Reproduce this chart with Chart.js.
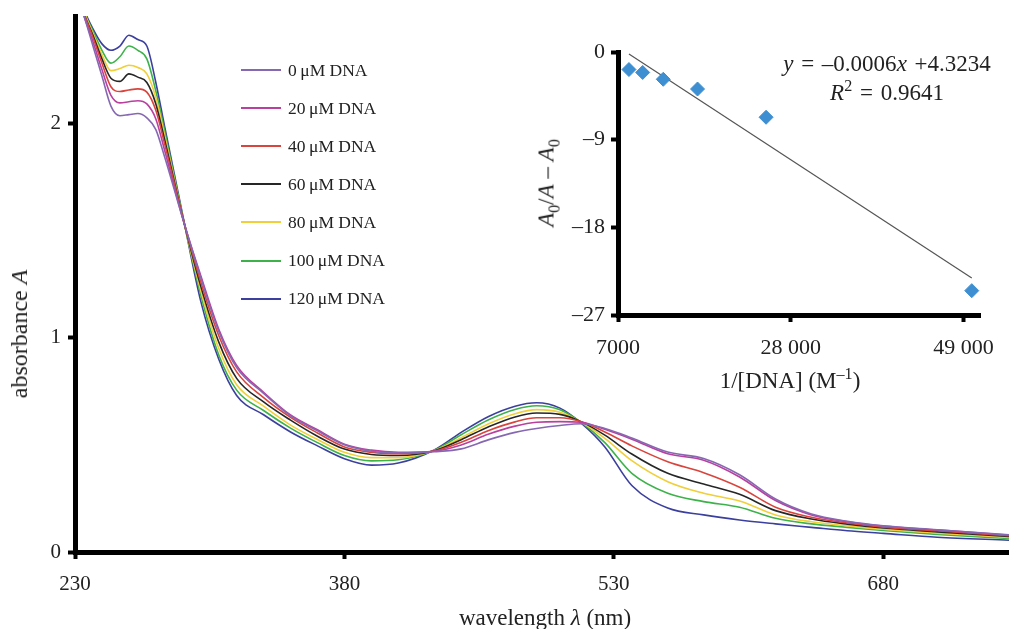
<!DOCTYPE html>
<html lang="en">
<head>
  <meta charset="UTF-8" />
  <title>Absorbance titration with DNA</title>
  <script src="https://cdn.jsdelivr.net/npm/chart.js"></script>
  <style>
    body { margin: 0; background: #fff; font-family: "Liberation Serif", "Times New Roman", serif; color: #222; }
    #wrap { position: relative; width: 1009px; height: 629px; overflow: hidden; }
    #main { position: absolute; left: 0; top: 0; }
    #inset { position: absolute; left: 500px; top: 20px; }
    .lbl { position: absolute; white-space: nowrap; font-size: 23px; line-height: 1; transform: translate(-50%, -50%); }
    .eq { font-size: 23px; word-spacing: 2px; }
    .rot { transform: translate(-50%, -50%) rotate(-90deg); }
    .legend-row { position: absolute; left: 241px; height: 20px; display: flex; align-items: center; font-size: 17.5px; white-space: nowrap; }
    .legend-row span.swatch { display: inline-block; width: 40px; height: 2px; margin-right: 7px; }
    sub, sup { font-size: 70%; line-height: 0; }
  </style>
</head>
<body>
<div id="wrap">
  <canvas id="main" width="1009" height="629"></canvas>
  <canvas id="inset" width="500" height="360"></canvas>
  <div id="legend"></div>

  <div class="lbl" style="left:545px; top:617px;">wavelength <i>λ</i> (nm)</div>
  <div class="lbl rot" style="left:19px; top:334px; font-size:24px;">absorbance <i>A</i></div>

  <div class="lbl" style="left:790px; top:380px;">1/[DNA] (M<sup>–1</sup>)</div>
  <div class="lbl rot" style="left:546px; top:183px;"><i>A</i><sub>0</sub>/<i>A</i> – <i>A</i><sub>0</sub></div>
  <div class="lbl eq" style="left:887px; top:63px;"><i>y</i> = –0.0006<i>x</i> +4.3234</div>
  <div class="lbl eq" style="left:887px; top:92px;"><i>R</i><sup>2</sup> = 0.9641</div>
</div>

<script>
  // wavelength grid (nm) shared by all spectra
  const wavelength = [230, 235, 240, 245, 250, 255, 260, 265, 270, 275, 280, 290, 300, 310, 320, 335, 350, 365, 380, 395,
                      410, 430, 445, 460, 475, 487, 500, 512, 525, 540, 560, 580, 600, 620, 640, 660, 680, 710, 750];

  const abs0   = [2.62, 2.50, 2.36, 2.22, 2.08, 2.035, 2.04, 2.045, 2.025, 1.97, 1.84, 1.555, 1.28, 1.03, 0.86, 0.74, 0.635, 0.565, 0.50, 0.47,
                  0.462, 0.468, 0.481, 0.523, 0.558, 0.576, 0.59, 0.598, 0.576, 0.532, 0.466, 0.436, 0.36, 0.247, 0.177, 0.143, 0.122, 0.104, 0.08];
  const abs20  = [2.63, 2.50, 2.38, 2.25, 2.13, 2.095, 2.10, 2.105, 2.09, 2.02, 1.87, 1.555, 1.29, 1.04, 0.87, 0.745, 0.639, 0.57, 0.503, 0.475,
                  0.465, 0.470, 0.499, 0.549, 0.587, 0.605, 0.608, 0.605, 0.572, 0.526, 0.458, 0.428, 0.35, 0.24, 0.173, 0.141, 0.121, 0.103, 0.079];
  const abs40  = [2.64, 2.51, 2.40, 2.28, 2.17, 2.148, 2.155, 2.16, 2.145, 2.06, 1.90, 1.56, 1.26, 1.01, 0.84, 0.72, 0.628, 0.555, 0.49, 0.465,
                  0.458, 0.471, 0.512, 0.566, 0.607, 0.626, 0.626, 0.607, 0.56, 0.495, 0.421, 0.37, 0.302, 0.209, 0.162, 0.135, 0.116, 0.099, 0.076];
  const abs60  = [2.64, 2.51, 2.41, 2.30, 2.21, 2.195, 2.23, 2.215, 2.19, 2.09, 1.92, 1.56, 1.24, 0.98, 0.81, 0.70, 0.615, 0.54, 0.48, 0.455,
                  0.45, 0.472, 0.524, 0.583, 0.63, 0.648, 0.642, 0.607, 0.545, 0.457, 0.367, 0.317, 0.269, 0.193, 0.154, 0.13, 0.112, 0.094, 0.072];
  const abs80  = [2.65, 2.52, 2.42, 2.32, 2.245, 2.255, 2.27, 2.26, 2.23, 2.12, 1.94, 1.56, 1.22, 0.95, 0.78, 0.68, 0.592, 0.525, 0.465, 0.44,
                  0.44, 0.473, 0.533, 0.597, 0.645, 0.664, 0.652, 0.605, 0.53, 0.426, 0.328, 0.274, 0.238, 0.173, 0.141, 0.122, 0.106, 0.088, 0.068];
  const abs100 = [2.65, 2.52, 2.43, 2.34, 2.28, 2.31, 2.36, 2.34, 2.30, 2.15, 1.96, 1.565, 1.20, 0.92, 0.755, 0.66, 0.578, 0.51, 0.45, 0.425,
                  0.43, 0.474, 0.547, 0.616, 0.665, 0.682, 0.663, 0.603, 0.51, 0.367, 0.274, 0.235, 0.209, 0.157, 0.131, 0.115, 0.10, 0.082, 0.063];
  const abs120 = [2.66, 2.53, 2.44, 2.37, 2.34, 2.36, 2.41, 2.39, 2.36, 2.19, 1.98, 1.57, 1.17, 0.90, 0.73, 0.64, 0.56, 0.495, 0.435, 0.405,
                  0.415, 0.476, 0.558, 0.631, 0.68, 0.696, 0.671, 0.60, 0.49, 0.31, 0.205, 0.173, 0.149, 0.131, 0.115, 0.099, 0.087, 0.069, 0.055];

  const seriesLabels = ["0\u2009μM DNA", "20\u2009μM DNA", "40\u2009μM DNA", "60\u2009μM DNA", "80\u2009μM DNA", "100\u2009μM DNA", "120\u2009μM DNA"];
  const seriesColors = ["#8668b2", "#b9409f", "#d9443c", "#262626", "#f0cf3a", "#3db24a", "#3b3f9e"];
  const spectra = [abs0, abs20, abs40, abs60, abs80, abs100, abs120];

  const wavelengthTicks = [230, 380, 530, 680];
  const absorbanceTicks = [0, 1, 2];

  // inset: double reciprocal plot
  const invConc = [8333, 10000, 12500, 16667, 25000, 50000];
  const ratio = [-1.8, -2.1, -2.8, -3.8, -6.7, -24.5];
  const fitX = [8333, 50000];
  const fitY = [-0.2, -23.2];
  const insetXTicks = [7000, 28000, 49000];
  const insetYTicks = [0, -9, -18, -27];

  const tickFont = { family: "Liberation Serif", size: 21 };
  const insetFont = { family: "Liberation Serif", size: 22 };

  function axisStyle(extra) {
    return Object.assign({
      grid: { display: true, drawOnChartArea: false, drawTicks: true, tickLength: 7, tickWidth: 4, tickColor: "#000" },
      border: { display: true, color: "#000", width: 5 }
    }, extra);
  }

  // keep the plot box where it is even if an end label sticks out
  function fixHeight(h) {
    return s => { s.height = h; s.paddingLeft = 0; s.paddingRight = 0; };
  }
  function fixWidth(w) {
    return s => { s.width = w; s.paddingTop = 0; s.paddingBottom = 0; };
  }

  // legend drawn as html inside the plot
  const legend = document.getElementById("legend");
  seriesLabels.forEach((lab, i) => {
    const row = document.createElement("div");
    row.className = "legend-row";
    row.style.top = (60 + i * 38.1) + "px";
    row.innerHTML = `<span class="swatch" style="background:${seriesColors[i]}"></span>${lab}`;
    legend.appendChild(row);
  });

  new Chart(document.getElementById("main"), {
    type: "line",
    data: {
      datasets: spectra.map((s, i) => ({
        label: seriesLabels[i],
        data: wavelength.map((w, j) => ({ x: w, y: s[j] })),
        borderColor: seriesColors[i],
        borderWidth: 1.6,
        pointRadius: 0,
        cubicInterpolationMode: "monotone",
        fill: false
      }))
    },
    options: {
      responsive: false,
      animation: false,
      layout: { padding: { top: 16, right: 0, left: 0, bottom: 0 } },
      plugins: { legend: { display: false }, tooltip: { enabled: false } },
      scales: {
        x: axisStyle({
          type: "linear", min: 230, max: 750,
          afterBuildTicks: s => { s.ticks = wavelengthTicks.map(v => ({ value: v })); },
          afterFit: fixHeight(77),
          ticks: { font: tickFont, color: "#222", padding: 13, maxRotation: 0 }
        }),
        y: axisStyle({
          min: 0, max: 2.5,
          afterBuildTicks: s => { s.ticks = absorbanceTicks.map(v => ({ value: v })); },
          afterFit: fixWidth(75),
          ticks: { font: tickFont, color: "#222", padding: 7 }
        })
      }
    }
  });

  new Chart(document.getElementById("inset"), {
    type: "scatter",
    data: {
      datasets: [
        {
          data: invConc.map((x, i) => ({ x: x, y: ratio[i] })),
          pointStyle: "rectRot",
          pointRadius: 7,
          backgroundColor: "#3d8fd1",
          borderColor: "#3d8fd1",
          order: 1
        },
        {
          type: "line",
          data: fitX.map((x, i) => ({ x: x, y: fitY[i] })),
          borderColor: "#555",
          borderWidth: 1.2,
          pointRadius: 0,
          order: 2
        }
      ]
    },
    options: {
      responsive: false,
      animation: false,
      layout: { padding: { top: 32, right: 20, left: 0, bottom: 0 } },
      plugins: { legend: { display: false }, tooltip: { enabled: false } },
      scales: {
        x: axisStyle({
          type: "linear", min: 7000, max: 51000,
          afterBuildTicks: s => { s.ticks = insetXTicks.map(v => ({ value: v })); },
          afterFit: fixHeight(65),
          ticks: {
            font: insetFont, color: "#222", padding: 13, maxRotation: 0,
            callback: v => v >= 10000 ? (v / 1000) + " 000" : String(v)
          }
        }),
        y: axisStyle({
          min: -27, max: 0,
          afterBuildTicks: s => { s.ticks = insetYTicks.map(v => ({ value: v })); },
          afterFit: fixWidth(118),
          ticks: {
            font: insetFont, color: "#222", padding: 6,
            callback: v => v < 0 ? "\u2013" + Math.abs(v) : String(v)
          }
        })
      }
    }
  });
</script>
</body>
</html>
